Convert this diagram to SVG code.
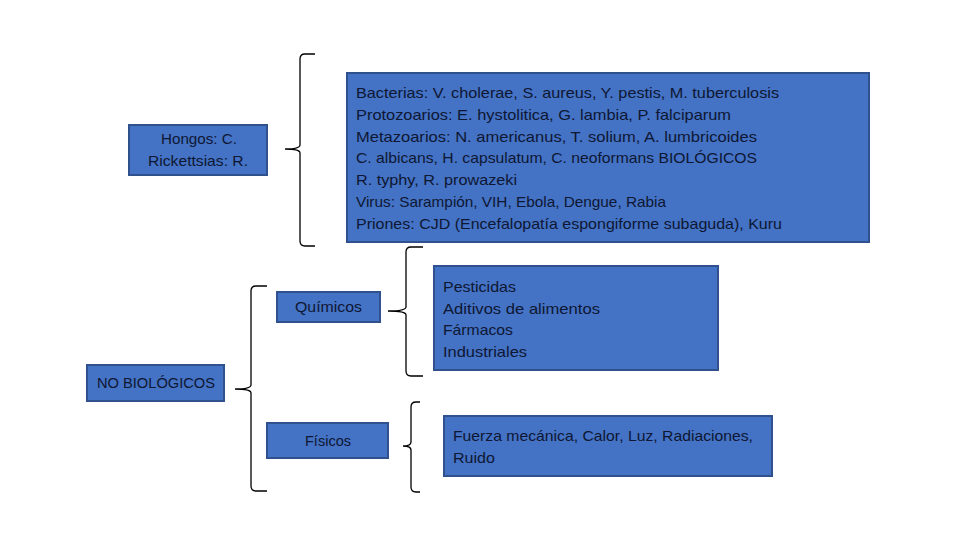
<svg xmlns="http://www.w3.org/2000/svg" width="960" height="540" viewBox="0 0 960 540">
<style>
.box{fill:#4472C4;stroke:#2F528F;stroke-width:2}
.t{font-family:"Liberation Sans","Noto Sans",sans-serif;font-size:15px;fill:#0e1733;lengthAdjust:spacingAndGlyphs}
.br{fill:none;stroke:#000;stroke-width:1.3}
</style>
<rect width="960" height="540" fill="#fff"/>
<g id="connectors">
<path class="br" d="M315,54 H305 Q300,54 300,59 V145 Q300,149 285,149 Q300,149 300,153 V241 Q300,246 305,246 H315"/>
<path class="br" d="M267,286 H256 Q251,286 251,291 V385 Q251,389 235,389 Q251,389 251,393 V486 Q251,491 256,491 H267"/>
<path class="br" d="M423,247 H411 Q406,247 406,252 V307 Q406,311 388,311 Q406,311 406,315 V371 Q406,376 411,376 H423"/>
<path class="br" d="M420,402 H416 Q411,402 411,407 V442 Q411,446 403,446 Q411,446 411,450 V487 Q411,492 416,492 H420"/>
</g>
<g id="biologicos">
<rect class="box" x="347" y="73" width="522" height="169"/>
<text class="t" x="356" y="98" textLength="423" lengthAdjust="spacingAndGlyphs">Bacterias: V. cholerae, S. aureus, Y. pestis, M. tuberculosis</text>
<text class="t" x="356" y="120" textLength="375" lengthAdjust="spacingAndGlyphs">Protozoarios: E. hystolitica, G. lambia, P. falciparum</text>
<text class="t" x="356" y="142" textLength="401" lengthAdjust="spacingAndGlyphs">Metazoarios: N. americanus, T. solium, A. lumbricoides</text>
<text class="t" x="356" y="163" textLength="401" lengthAdjust="spacingAndGlyphs">C. albicans, H. capsulatum, C. neoformans BIOLÓGICOS</text>
<text class="t" x="356" y="185" textLength="161" lengthAdjust="spacingAndGlyphs">R. typhy, R. prowazeki</text>
<text class="t" x="356" y="207" textLength="310" lengthAdjust="spacingAndGlyphs">Virus: Sarampión, VIH, Ebola, Dengue, Rabia</text>
<text class="t" x="356" y="229" textLength="426" lengthAdjust="spacingAndGlyphs">Priones: CJD (Encefalopatía espongiforme subaguda), Kuru</text>
</g>
<g id="hongos">
<rect class="box" x="129" y="125" width="138" height="50"/>
<text class="t" x="161" y="144" textLength="76" lengthAdjust="spacingAndGlyphs">Hongos: C.</text>
<text class="t" x="148" y="166" textLength="100" lengthAdjust="spacingAndGlyphs">Rickettsias: R.</text>
</g>
<g id="nobiologicos">
<rect class="box" x="87" y="365" width="137" height="36"/>
<text class="t" x="97" y="388" textLength="118" lengthAdjust="spacingAndGlyphs">NO BIOLÓGICOS</text>
</g>
<g id="quimicos">
<rect class="box" x="277" y="292" width="103" height="30"/>
<text class="t" x="295" y="312" textLength="67" lengthAdjust="spacingAndGlyphs">Químicos</text>
</g>
<g id="fisicos">
<rect class="box" x="267" y="423" width="121" height="35"/>
<text class="t" x="305" y="446" textLength="46" lengthAdjust="spacingAndGlyphs">Físicos</text>
</g>
<g id="quimicos-lista">
<rect class="box" x="434" y="266" width="284" height="104"/>
<text class="t" x="443" y="292" textLength="73" lengthAdjust="spacingAndGlyphs">Pesticidas</text>
<text class="t" x="443" y="314" textLength="157" lengthAdjust="spacingAndGlyphs">Aditivos de alimentos</text>
<text class="t" x="443" y="335" textLength="70" lengthAdjust="spacingAndGlyphs">Fármacos</text>
<text class="t" x="443" y="357" textLength="84" lengthAdjust="spacingAndGlyphs">Industriales</text>
</g>
<g id="fisicos-lista">
<rect class="box" x="444" y="416" width="328" height="60"/>
<text class="t" x="453" y="441" textLength="300" lengthAdjust="spacingAndGlyphs">Fuerza mecánica, Calor, Luz, Radiaciones,</text>
<text class="t" x="453" y="463" textLength="42" lengthAdjust="spacingAndGlyphs">Ruido</text>
</g>
</svg>
